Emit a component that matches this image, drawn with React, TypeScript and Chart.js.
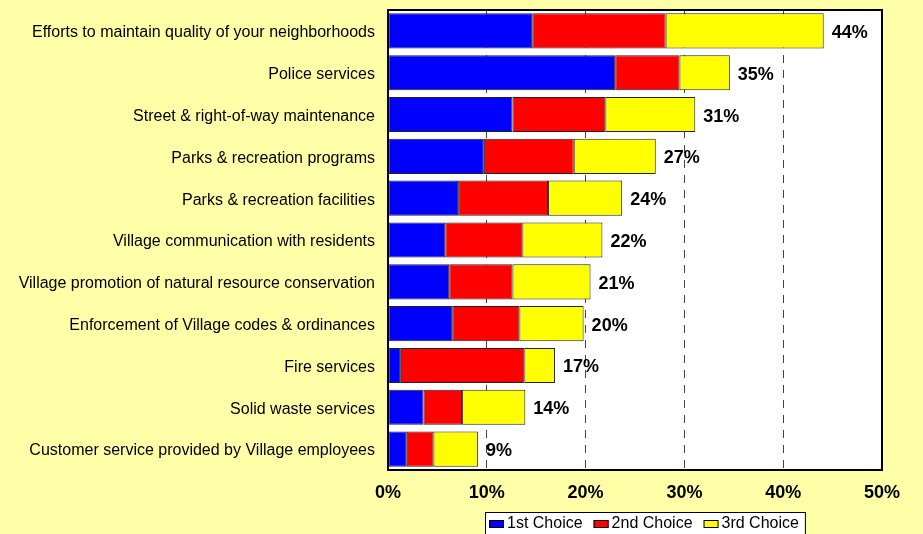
import React, { useEffect, useRef } from "react";
import { Chart, registerables } from "chart.js";

Chart.register(...registerables);

const categories = [
  "Efforts to maintain quality of your neighborhoods",
  "Police services",
  "Street & right-of-way maintenance",
  "Parks & recreation programs",
  "Parks & recreation facilities",
  "Village communication with residents",
  "Village promotion of natural resource conservation",
  "Enforcement of Village codes & ordinances",
  "Fire services",
  "Solid waste services",
  "Customer service provided by Village employees",
];

const firstChoice = [14.6, 23.0, 12.6, 9.7, 7.1, 5.8, 6.2, 6.5, 1.3, 3.6, 1.9];
const secondChoice = [13.5, 6.5, 9.4, 9.1, 9.1, 7.8, 6.4, 6.8, 12.5, 3.9, 2.7];
const thirdChoice = [16.0, 5.1, 9.1, 8.3, 7.5, 8.1, 7.9, 6.5, 3.1, 6.4, 4.5];
const totalLabels = ["44%", "35%", "31%", "27%", "24%", "22%", "21%", "20%", "17%", "14%", "9%"];

const seriesNames = ["1st Choice", "2nd Choice", "3rd Choice"];
const seriesColors = ["#0000FF", "#FF0000", "#FFFF00"];

const PAGE_BG = "#FFFFA8";
const FONT = "Arial, 'Liberation Sans', sans-serif";

const decorPlugin = {
  id: "decor",
  beforeDraw(chart: any) {
    const { ctx, chartArea } = chart;
    ctx.save();
    ctx.fillStyle = PAGE_BG;
    ctx.fillRect(0, 0, chart.width, chart.height);
    ctx.fillStyle = "#FFFFFF";
    ctx.fillRect(chartArea.left, chartArea.top, chartArea.right - chartArea.left, chartArea.bottom - chartArea.top);
    ctx.restore();
  },
  afterDatasetsDraw(chart: any) {
    const { ctx } = chart;
    const n = chart.data.datasets.length;
    const meta = chart.getDatasetMeta(n - 1);
    ctx.save();
    ctx.font = `bold 18px ${FONT}`;
    ctx.fillStyle = "#000";
    ctx.textAlign = "left";
    ctx.textBaseline = "middle";
    meta.data.forEach((bar: any, i: number) => {
      ctx.fillText(totalLabels[i], bar.x + 8, bar.y + 2);
    });
    ctx.restore();
  },
  afterDraw(chart: any) {
    const { ctx, chartArea } = chart;
    ctx.save();
    ctx.strokeStyle = "#000";
    ctx.lineWidth = 2;
    ctx.strokeRect(chartArea.left, chartArea.top, chartArea.right - chartArea.left, chartArea.bottom - chartArea.top);

    // legend box
    ctx.font = `16px ${FONT}`;
    const pad = 4;
    const boxW = 15;
    const boxH = 8;
    const gapBoxText = 3;
    const itemGap = 11;
    const widths = seriesNames.map((s) => ctx.measureText(s).width);
    const total =
      pad * 2 + widths.reduce((a, w) => a + boxW + gapBoxText + w, 0) + itemGap * (seriesNames.length - 1) + 2;
    const cx = (chartArea.left + chartArea.right) / 2 + 10;
    const left = Math.round(cx - total / 2);
    const top = 512;
    ctx.fillStyle = "#FFFFFF";
    ctx.fillRect(left, top, total, 40);
    ctx.lineWidth = 1;
    ctx.strokeStyle = "#000";
    ctx.strokeRect(left + 0.5, top + 0.5, total, 40);
    let x = left + pad;
    const cy = 524;
    seriesNames.forEach((s, i) => {
      ctx.fillStyle = seriesColors[i];
      ctx.fillRect(x, cy - boxH / 2, boxW, boxH);
      ctx.strokeStyle = "#000";
      ctx.strokeRect(x + 0.5, cy - boxH / 2 + 0.5, boxW - 1, boxH - 1);
      x += boxW + gapBoxText;
      ctx.fillStyle = "#000";
      ctx.textAlign = "left";
      ctx.textBaseline = "middle";
      ctx.fillText(s, x, cy);
      x += widths[i] + itemGap;
    });
    ctx.restore();
  },
};

export default function App() {
  const ref = useRef<HTMLCanvasElement | null>(null);
  useEffect(() => {
    if (!ref.current) return;
    const data = [firstChoice, secondChoice, thirdChoice];
    const chart = new Chart(ref.current, {
      type: "bar",
      data: {
        labels: categories,
        datasets: data.map((d, i) => ({
          label: seriesNames[i],
          data: d,
          backgroundColor: seriesColors[i],
          borderColor: "#222",
          borderWidth: 1,
          borderSkipped: false,
          barPercentage: 0.84,
          categoryPercentage: 1,
        })),
      },
      options: {
        indexAxis: "y",
        responsive: false,
        animation: false,
        layout: { padding: { left: 0, right: 41, top: 10, bottom: 0 } },
        plugins: {
          legend: { display: false },
          tooltip: { enabled: false },
        },
        scales: {
          x: {
            stacked: true,
            min: 0,
            max: 50,
            afterFit(scale: any) {
              scale.height = 64;
              scale.paddingLeft = 0;
              scale.paddingRight = 0;
            },
            ticks: {
              stepSize: 10,
              padding: 12,
              color: "#000",
              font: { family: FONT, size: 18, weight: "bold" },
              callback: (v: any) => `${v}%`,
            },
            grid: {
              drawTicks: false,
              lineWidth: 1,
              color: (c: any) => (c.tick && (c.tick.value === 0 || c.tick.value === 50) ? "rgba(0,0,0,0)" : "#444"),
            },
            border: { display: false, dash: [8, 7] },
          },
          y: {
            stacked: true,
            afterFit(scale: any) {
              scale.width = 388;
              scale.paddingTop = 0;
              scale.paddingBottom = 0;
            },
            ticks: {
              padding: 13,
              labelOffset: 2,
              color: "#000",
              font: { family: FONT, size: 16 },
            },
            grid: { display: false, drawTicks: false },
            border: { display: false },
          },
        },
      },
      plugins: [decorPlugin],
    } as any);
    return () => chart.destroy();
  }, []);
  return (
    <div style={{ position: "fixed", left: 0, top: 0, width: 923, height: 534, background: PAGE_BG }}>
      <canvas ref={ref} width={923} height={534} />
    </div>
  );
}
